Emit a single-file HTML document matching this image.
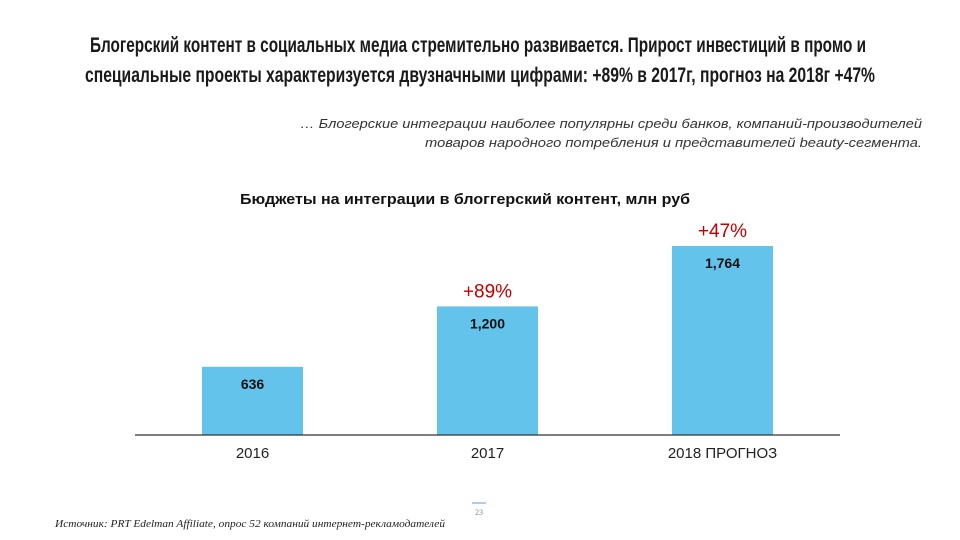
<!DOCTYPE html>
<html><head><meta charset="utf-8"><style>
body{margin:0;background:#fff;width:960px;height:540px;overflow:hidden}
svg{display:block}
</style></head><body>
<svg width="960" height="540" font-family="Liberation Sans, sans-serif">
<g fill="#1a1a1a" font-weight="bold" font-size="21">
<text x="90" y="52" textLength="776" lengthAdjust="spacingAndGlyphs">Блогерский контент в социальных медиа стремительно развивается. Прирост инвестиций в промо и</text>
<text x="85" y="82" textLength="790" lengthAdjust="spacingAndGlyphs">специальные проекты характеризуется двузначными цифрами: +89% в 2017г, прогноз на 2018г +47%</text>
</g>
<g fill="#333" font-size="13" font-style="italic">
<text x="300" y="128" textLength="622" lengthAdjust="spacingAndGlyphs">… Блогерские интеграции наиболее  популярны среди банков, компаний-производителей</text>
<text x="425" y="147" textLength="497" lengthAdjust="spacingAndGlyphs">товаров народного потребления и представителей beauty-сегмента.</text>
</g>
<text x="240" y="204" textLength="450" lengthAdjust="spacingAndGlyphs" font-size="15" font-weight="bold" fill="#111">Бюджеты на интеграции в блоггерский контент, млн руб</text>
<g id="chart"></g>
<line x1="472" y1="503" x2="486" y2="503" stroke="#5b9bd5" stroke-width="1"/>
<text x="479" y="515" text-anchor="middle" font-size="8" fill="#888" font-family="Liberation Serif, serif">23</text>
<text x="55" y="527" textLength="390" lengthAdjust="spacingAndGlyphs" font-size="10" font-style="italic" fill="#222" font-family="Liberation Serif, serif">Источник: PRT Edelman Affiliate, опрос 52 компаний интернет-рекламодателей</text>
</svg>
<script>
const categories = ["2016", "2017", "2018 ПРОГНОЗ"];
const values = [636, 1200, 1764];
const valueLabels = ["636", "1,200", "1,764"];
const growthLabels = ["", "+89%", "+47%"];

const NS = "http://www.w3.org/2000/svg";
const g = document.getElementById("chart");
const baseY = 435, pxPerUnit = 189 / 1764;
const x0 = 135, bandW = 235, barW = 101;
function xCenter(i){ return x0 + bandW * (i + 0.5); }
function yScale(v){ return baseY - v * pxPerUnit; }
function mk(tag, attrs){ const e = document.createElementNS(NS, tag); for (const k in attrs) e.setAttribute(k, attrs[k]); g.appendChild(e); return e; }

categories.forEach((c, i) => {
  const cx = xCenter(i), top = yScale(values[i]);
  const r = mk("rect", {x: cx - barW/2, y: top, width: barW, height: baseY - top, fill: "#63c3ea"});
  
  
  const vl = mk("text", {x: cx, y: top + 22, "text-anchor": "middle", "font-size": 14, "font-weight": "bold", fill: "#111"});
  vl.textContent = valueLabels[i];
  
  
  if (growthLabels[i]) {
    const gl = mk("text", {x: cx, y: top - 9, "text-anchor": "middle", "font-size": 19, fill: "#c00000"});
    gl.textContent = growthLabels[i];
    
    
  }
  const xl = mk("text", {x: cx, y: 458, "text-anchor": "middle", "font-size": 15, fill: "#222"});
  xl.textContent = c;
  
  
});
const ax = mk("line", {x1: x0, y1: baseY, x2: x0 + bandW * 3, y2: baseY, stroke: "#333", "stroke-width": 1.2});


</script>
</body></html>
